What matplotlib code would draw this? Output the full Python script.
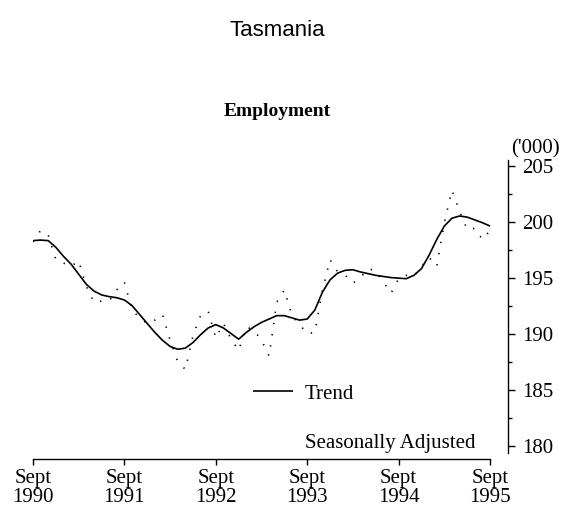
import matplotlib
matplotlib.use("Agg")
import matplotlib.pyplot as plt
from matplotlib.lines import Line2D
import numpy as np

# Monthly data, Sept 1990 .. Sept 1995 ('000 persons)
trend = [198.3, 198.35, 198.3, 197.7, 196.9, 196.2, 195.3, 194.4, 193.8, 193.45,
         193.3, 193.2, 193.0, 192.5, 191.7, 190.9, 190.1, 189.4, 188.85, 188.6,
         188.7, 189.2, 189.9, 190.5, 190.8, 190.5, 190.0, 189.5, 190.1, 190.6,
         191.0, 191.3, 191.6, 191.6, 191.4, 191.2, 191.3, 192.1, 193.7, 194.8,
         195.4, 195.65, 195.7, 195.5, 195.35, 195.2, 195.1, 195.0, 194.95, 194.9,
         195.2, 195.8, 197.0, 198.4, 199.6, 200.3, 200.5, 200.4, 200.15, 199.9,
         199.6]
seas_adj = [198.2, 199.2, 198.8, 196.6, 196.3, 196.0, 196.5, 194.2, 192.8, 192.9,
            192.9, 193.9, 194.6, 192.1, 191.4, 190.9, 191.2, 191.7, 189.4, 187.5,
            186.8, 189.8, 191.6, 192.0, 189.6, 190.9, 189.5, 188.5, 190.6, 190.3,
            189.4, 188.0, 192.8, 193.9, 191.6, 190.8, 190.0, 190.1, 193.9, 196.6,
            195.5, 195.2, 194.5, 195.0, 195.8, 195.6, 194.6, 193.6, 194.9, 195.2,
            195.1, 196.0, 196.8, 196.0, 199.9, 202.8, 200.9, 199.3, 199.4, 198.4,
            199.2]
tick_months = [0, 12, 24, 36, 48, 60]
tick_labels = ["Sept\n1990", "Sept\n1991", "Sept\n1992", "Sept\n1993", "Sept\n1994", "Sept\n1995"]
y_major = [180, 185, 190, 195, 200, 205]
y_minor = [182.5, 187.5, 192.5, 197.5, 202.5]

W, H = 562, 512
fig = plt.figure(figsize=(W / 100, H / 100), dpi=100)
fig.patch.set_facecolor("white")

ax = fig.add_axes([33 / W, 1 - 459 / H, 475 / W, 299 / H])
months = np.arange(len(trend))

tl, = ax.plot(months, trend, color="black", lw=1.2, solid_capstyle="butt",
              solid_joinstyle="round")
sl, = ax.plot(months, seas_adj, color="black", lw=1.2, linestyle=(0, (0.8, 6)))

ax.set_xlim(0, 62.36)
ax.set_ylim(178.8, 205.5)

for s in ["top", "left"]:
    ax.spines[s].set_visible(False)
ax.spines["bottom"].set_bounds(0, 60)
ax.spines["right"].set_bounds(179.3, 205.5)
ax.spines["bottom"].set_linewidth(1.0)
ax.spines["right"].set_linewidth(1.0)

ax.yaxis.tick_right()
ax.set_yticks(y_major)
ax.set_yticks(y_minor, minor=True)
ax.set_yticklabels([str(v) for v in y_major], family="Liberation Serif", fontsize=15)
ax.tick_params(axis="y", which="major", direction="out", length=5, width=1, pad=5)
ax.tick_params(axis="y", which="minor", direction="out", length=3, width=1)

ax.set_xticks(tick_months)
ax.set_xticklabels(tick_labels, family="Liberation Serif", fontsize=15, linespacing=1.0)
ax.tick_params(axis="x", which="major", direction="out", length=4, width=1, pad=3)

fig.text(277 / W, 1 - 30 / H, "Tasmania", ha="center", va="center",
         family="Liberation Sans", fontsize=16)
fig.text(277 / W, 1 - 111 / H, "Employment", ha="center", va="center",
         family="Liberation Serif", fontweight="bold", fontsize=14)
fig.text(535 / W, 1 - 149 / H, "('000)", ha="center", va="center",
         family="Liberation Serif", fontsize=15)

blank = Line2D([], [], linestyle="none")
leg = ax.legend([tl, blank], ["Trend", "Seasonally Adjusted"], frameon=False,
                loc="upper left", bbox_to_anchor=(253 / W, 1 - 384 / H),
                bbox_transform=fig.transFigure, borderpad=0, borderaxespad=0,
                handlelength=1.9, handletextpad=0.6, labelspacing=1.42,
                prop={"family": "Liberation Serif", "size": 15})

fig.savefig("out.png", dpi=100, facecolor="white")
